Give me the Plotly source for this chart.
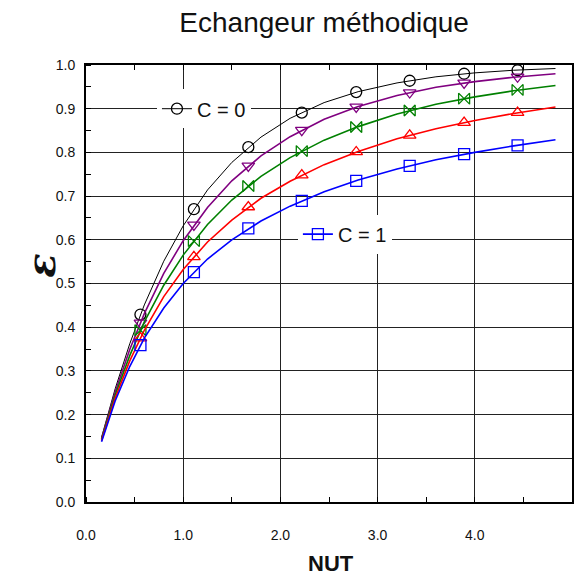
import plotly.graph_objects as go

# NUT values used for the curves and for the markers
nut_line = [0.16, 0.3, 0.45, 0.6, 0.8, 1.0, 1.25, 1.5, 1.8, 2.1, 2.45, 2.8, 3.2, 3.6, 4.0, 4.4, 4.83]
nut_mark = [0.56, 1.11, 1.67, 2.22, 2.78, 3.33, 3.89, 4.44]

# effectiveness curves
eps_c0_line = [0.148, 0.259, 0.362, 0.451, 0.551, 0.632, 0.714, 0.777, 0.835, 0.878, 0.914, 0.939, 0.959, 0.973, 0.982, 0.988, 0.992]
eps_c025_line = [0.145, 0.252, 0.349, 0.431, 0.523, 0.598, 0.674, 0.735, 0.792, 0.836, 0.876, 0.905, 0.930, 0.949, 0.962, 0.972, 0.980]
eps_c05_line = [0.143, 0.245, 0.335, 0.412, 0.496, 0.565, 0.635, 0.691, 0.745, 0.788, 0.828, 0.859, 0.888, 0.910, 0.927, 0.941, 0.953]
eps_c075_line = [0.140, 0.238, 0.323, 0.393, 0.470, 0.532, 0.595, 0.645, 0.695, 0.734, 0.772, 0.802, 0.831, 0.854, 0.873, 0.889, 0.904]
eps_c1_line = [0.138, 0.231, 0.310, 0.375, 0.444, 0.500, 0.556, 0.600, 0.643, 0.677, 0.710, 0.737, 0.762, 0.783, 0.800, 0.815, 0.829]

eps_c0_mark = [0.429, 0.670, 0.812, 0.891, 0.938, 0.964, 0.980, 0.988]
eps_c025_mark = [0.410, 0.634, 0.769, 0.851, 0.904, 0.937, 0.959, 0.973]
eps_c05_mark = [0.393, 0.597, 0.723, 0.803, 0.858, 0.896, 0.923, 0.943]
eps_c075_mark = [0.375, 0.561, 0.675, 0.748, 0.801, 0.839, 0.868, 0.891]
eps_c1_mark = [0.359, 0.526, 0.626, 0.689, 0.735, 0.769, 0.796, 0.816]

series = [
    ("C = 0", eps_c0_line, eps_c0_mark, "black", "circle-open", 1.0),
    ("C = 0.25", eps_c025_line, eps_c025_mark, "#800080", "triangle-down-open", 1.6),
    ("C = 0.5", eps_c05_line, eps_c05_mark, "#008000", "bowtie-open", 1.6),
    ("C = 0.75", eps_c075_line, eps_c075_mark, "#ff0000", "triangle-up-open", 1.6),
    ("C = 1", eps_c1_line, eps_c1_mark, "#0000ff", "square-open", 1.6),
]

x_ticks = [0, 1, 2, 3, 4, 5]
x_ticklabels = ["0.0", "1.0", "2.0", "3.0", "4.0", "5.0"]
x_top_ticks = [0.5, 1.0, 1.5, 2.0, 2.5, 3.0, 3.5, 4.0, 4.5]
y_ticks = [i / 10 for i in range(11)]
y_ticklabels = ["%.1f" % v for v in y_ticks]

fig = go.Figure()
for name, yl, ym, col, sym, lw in series:
    fig.add_trace(go.Scatter(x=nut_line, y=yl, mode="lines", line=dict(color=col, width=lw),
                             showlegend=False, hoverinfo="skip"))
    fig.add_trace(go.Scatter(x=nut_mark, y=ym, mode="markers", name=name,
                             marker=dict(symbol=sym, size=11, color=col, line=dict(width=1.3, color=col)),
                             showlegend=False))

# legend entries (placed on the top helper axis so that it is drawn)
fig.add_trace(go.Scatter(x=[None], y=[None], mode="lines+markers", name="C = 0", xaxis="x2",
                         line=dict(color="black", width=1),
                         marker=dict(symbol="circle-open", size=11, color="black", line=dict(width=1.3)),
                         legend="legend"))
fig.add_trace(go.Scatter(x=[None], y=[None], mode="lines+markers", name="C = 1", xaxis="x2",
                         line=dict(color="#0000ff", width=1.6),
                         marker=dict(symbol="square-open", size=11, color="#0000ff", line=dict(width=1.3)),
                         legend="legend2"))

font_main = "Liberation Sans, Arial, sans-serif"
fig.update_layout(
    width=581, height=576,
    margin=dict(l=86, r=9, t=65, b=74, autoexpand=False),
    paper_bgcolor="white", plot_bgcolor="white",
    font=dict(family=font_main, color="#111"),
    title=dict(text="Echangeur méthodique", x=0.49, xref="paper", xanchor="center", y=0.962, yanchor="middle",
               font=dict(size=28, family=font_main, color="#111")),
    legend=dict(x=0.146, y=0.9, xanchor="left", yanchor="middle", bgcolor="white",
                font=dict(size=20, family=font_main, color="#111"), itemwidth=30,
                borderwidth=0, tracegroupgap=0),
    legend2=dict(x=0.436, y=0.613, xanchor="left", yanchor="middle", bgcolor="white",
                 font=dict(size=20, family=font_main, color="#111"), itemwidth=30,
                 borderwidth=0),
    xaxis=dict(range=[0, 5], tickvals=x_ticks, ticktext=x_ticklabels, automargin=False,
               showgrid=True, gridcolor="#222", gridwidth=1,
               showline=True, linecolor="black", linewidth=2, mirror=True,
               ticks="outside", ticklen=19, tickcolor="white", tickwidth=1,
               minor=dict(dtick=0.5, ticks="inside", ticklen=5, tickcolor="black", showgrid=False),
               tickfont=dict(size=14, family=font_main, color="#111"),
               zeroline=False),
    xaxis2=dict(range=[0, 5], overlaying="x", side="top", automargin=False,
                tickvals=x_top_ticks, ticks="inside", ticklen=5, tickcolor="black",
                showticklabels=False, showgrid=False, showline=False, zeroline=False),
    yaxis=dict(range=[0, 1], tickvals=y_ticks, ticktext=y_ticklabels, automargin=False,
               showgrid=True, gridcolor="#222", gridwidth=1,
               showline=True, linecolor="black", linewidth=2, mirror=True,
               ticks="outside", ticklen=6, tickcolor="white", tickwidth=1,
               minor=dict(dtick=0.05, ticks="inside", ticklen=5, tickcolor="black", showgrid=False),
               tickfont=dict(size=14, family=font_main, color="#111"),
               zeroline=False),
    annotations=[
        dict(text="<b>NUT</b>", xref="paper", yref="paper", x=0.505, y=-0.141,
             xanchor="center", yanchor="middle", showarrow=False,
             font=dict(size=22, family=font_main, color="#111")),
        dict(text="<b><i>ε</i></b>", xref="paper", yref="paper", x=-0.095, y=0.54,
             xanchor="center", yanchor="middle", showarrow=False, textangle=-90,
             font=dict(size=40, family="DejaVu Serif, serif", color="#111")),
    ],
)

fig.write_html("out.html", config={"displayModeBar": False},
               post_script=("document.documentElement.style.margin='0';"
                            "document.documentElement.style.overflow='hidden';"
                            "document.body.style.margin='0';"
                            "document.body.style.overflow='hidden';"))
